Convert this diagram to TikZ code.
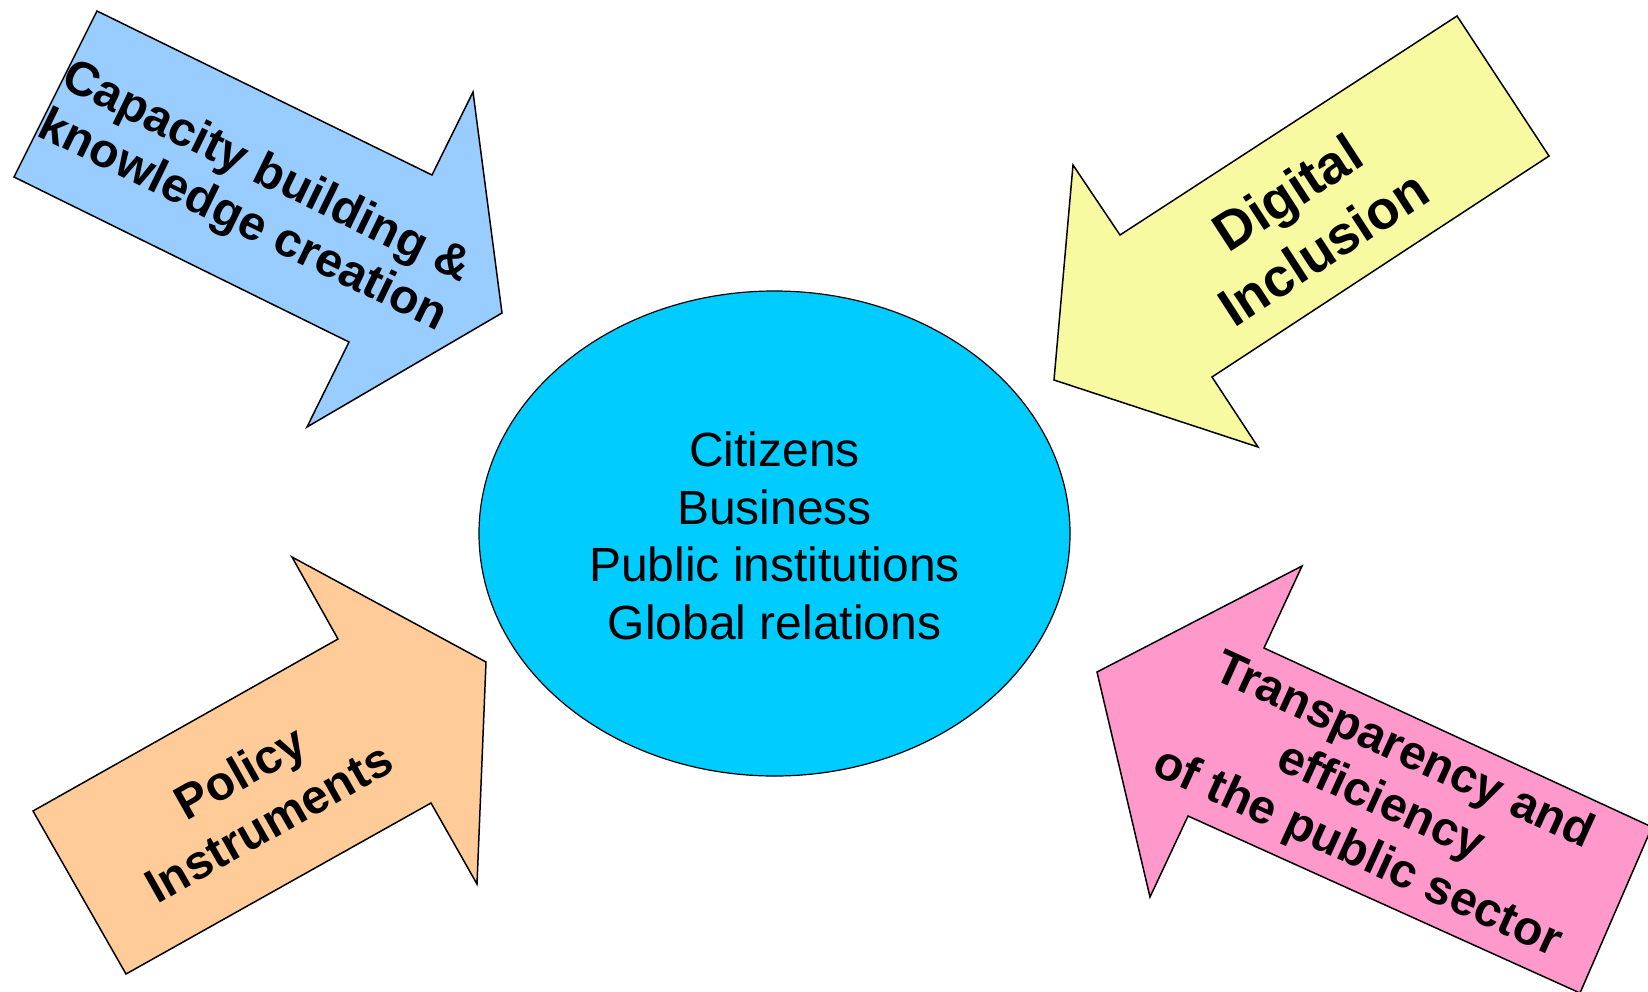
\documentclass[tikz,border=0pt]{standalone}
\usepackage{fontspec}
\setmainfont{Liberation Sans}
\usetikzlibrary{shapes.geometric}
\definecolor{arrblue}{HTML}{99CCFF}
\definecolor{arryellow}{HTML}{F8FAA2}
\definecolor{arrorange}{HTML}{FFCC99}
\definecolor{arrpink}{HTML}{FF99CC}
\definecolor{hubcyan}{HTML}{00CCFF}
\tikzset{
  arrowshape/.style={draw=black, line width=0.75pt, line join=miter},
  arrowlabel/.style={font=\bfseries\fontsize{24}{27}\selectfont, align=center, inner sep=0pt},
  hub/.style={ellipse, draw=black, line width=0.6pt, fill=hubcyan, inner sep=0pt,
    minimum width=295.5pt, minimum height=242.5pt},
  hubtext/.style={font=\fontsize{24}{28.8}\selectfont, align=center, inner sep=0pt}
}
\begin{document}
\begin{tikzpicture}[x=0.5pt,y=-0.5pt]
\useasboundingbox (0,0) rectangle (1648,991);
\clip (0,0) rectangle (1648,991);
% ellipse
\node[hub] (hub) at (774.5,533.5) {};
\node[hubtext] (hubtxt) at (774.5,536) {Citizens\\Business\\Public institutions\\Global relations};
% blue arrow
\fill[arrblue] (97,11) -- (432,175) -- (473,92) -- (502,313) -- (307,427) -- (349,342) -- (14,177) -- cycle;
\draw[arrowshape] (97,11) -- (432,175) -- (473,92) -- (502,313) -- (307,427) -- (349,342) -- (14,177) -- cycle;
\node[arrowlabel, rotate=-26] (capacity) at (254,198) {Capacity building \&\\knowledge creation};
% yellow arrow
\draw[arrowshape, fill=arryellow] (1457,16) -- (1549,156) -- (1212,377) -- (1258,447) -- (1054,380) -- (1073,165) -- (1120,235) -- cycle;
\node[arrowlabel, rotate=33, font=\bfseries\fontsize{27}{33}\selectfont] (digital) at (1305,220) {Digital\\Inclusion};
% orange arrow
\draw[arrowshape, fill=arrorange] (292,557) -- (486,662) -- (477,884) -- (431,803) -- (126,974) -- (33,811) -- (338,639) -- cycle;
\node[arrowlabel, rotate=29.5, font=\bfseries\fontsize{24}{29}\selectfont] (policy) at (254,797) {Policy\\Instruments};
% pink arrow
\draw[arrowshape, fill=arrpink] (1302,566) -- (1264,648) -- (1652,827) -- (1580,993) -- (1188,816) -- (1150,897) -- (1097,672) -- cycle;
\node[arrowlabel, rotate=-24.5, font=\bfseries\fontsize{24}{28}\selectfont] (transp) at (1380,803) {Transparency and\\efficiency\\of the public sector};
\end{tikzpicture}
\end{document}
